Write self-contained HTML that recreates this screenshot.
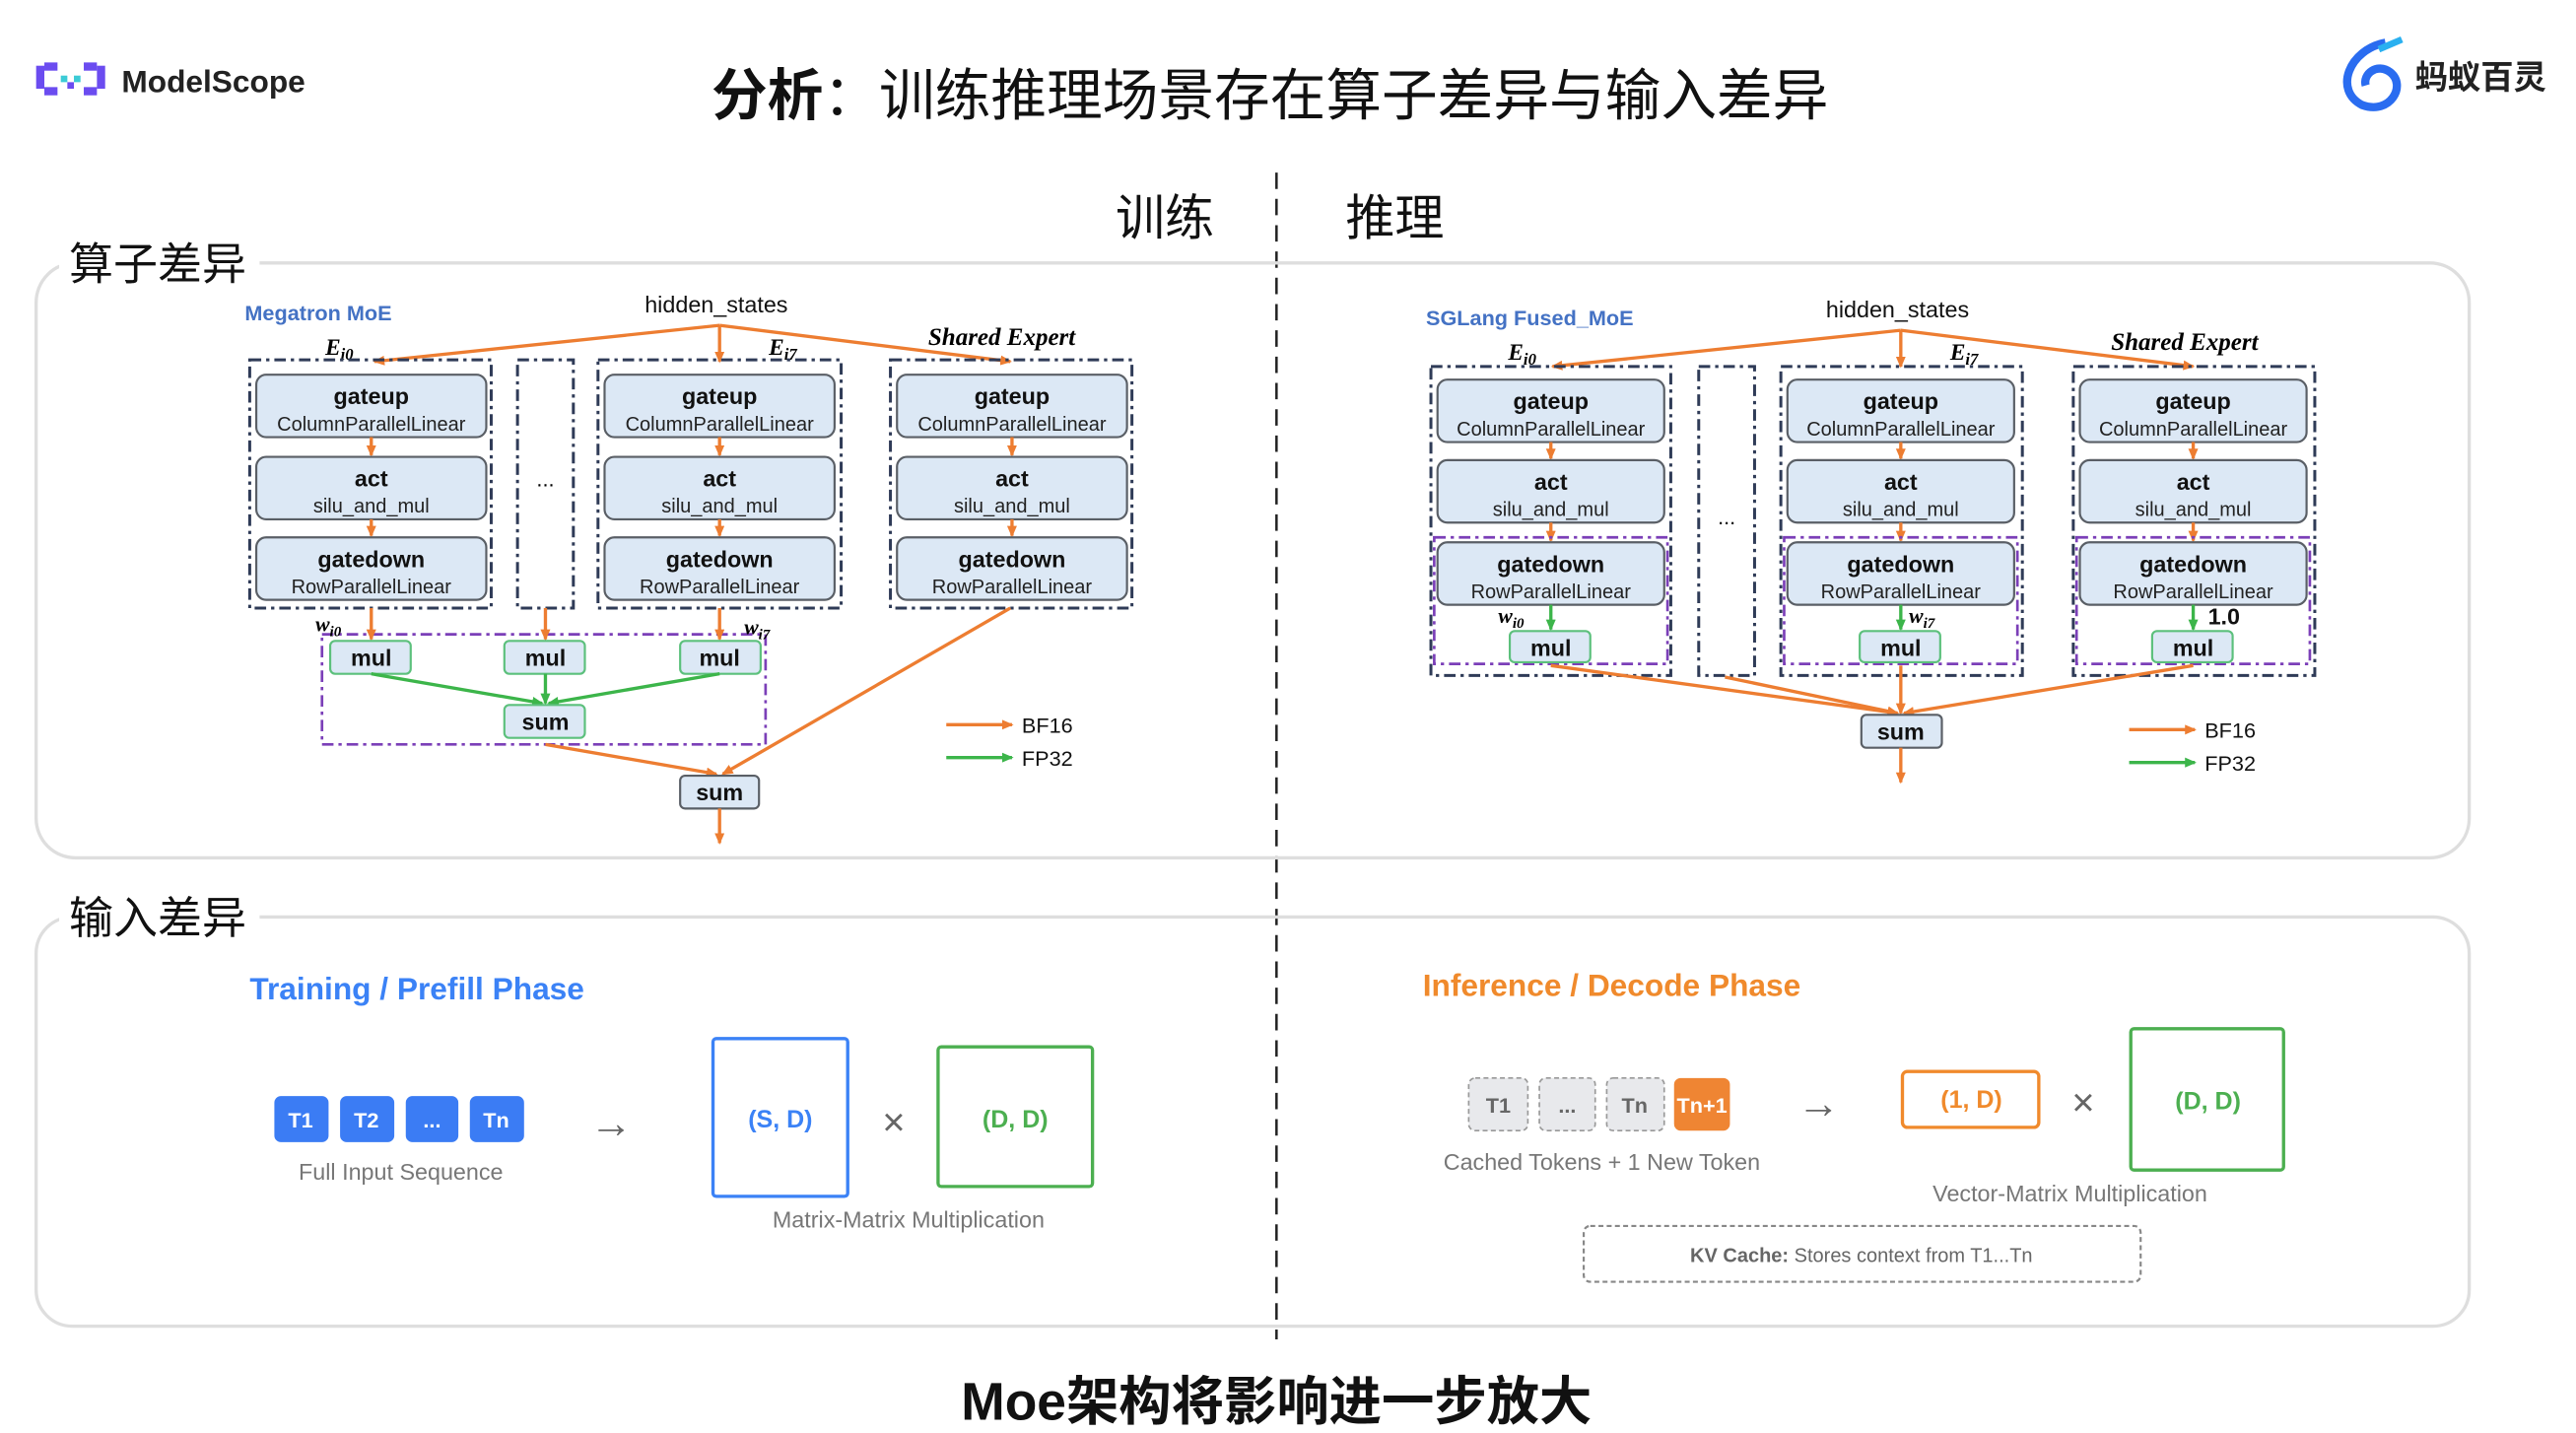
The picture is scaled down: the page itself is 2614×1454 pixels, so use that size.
<!DOCTYPE html>
<html><head><meta charset="utf-8"><style>
html,body{margin:0;padding:0;background:#fff;}
svg{display:block;}
text{font-family:"Liberation Sans","Noto Sans CJK SC",sans-serif;}
.cj{font-family:"Liberation Sans","Noto Sans CJK SC",sans-serif;}
.ser{font-family:"Liberation Serif","DejaVu Serif",serif;font-style:italic;font-weight:bold;}
.nb{fill:#dce8f5;stroke:#5a5f66;stroke-width:1.3;}
.ng{fill:#dce8f5;stroke:#5cc07c;stroke-width:1.3;}
.t1{font-size:14px;font-weight:bold;fill:#111;text-anchor:middle;}
.t2{font-size:12px;fill:#222;text-anchor:middle;}
.ex{fill:none;stroke:#2f3b57;stroke-width:1.8;stroke-dasharray:7,3,2,3;}
.pu{fill:none;stroke:#7b3fb8;stroke-width:1.6;stroke-dasharray:7,3,2,3;}
.or{stroke:#ed7d31;stroke-width:2;fill:none;}
.gr{stroke:#3cb54a;stroke-width:2;fill:none;}
</style></head><body>
<svg width="2614" height="1454" viewBox="0 0 1568 872" preserveAspectRatio="none" xmlns="http://www.w3.org/2000/svg">
<defs>
<marker id="ao" markerWidth="8" markerHeight="8" refX="6" refY="3" orient="auto" markerUnits="userSpaceOnUse"><path d="M0,0 L7,3 L0,6 z" fill="#ed7d31"/></marker>
<marker id="ag" markerWidth="8" markerHeight="8" refX="6" refY="3" orient="auto" markerUnits="userSpaceOnUse"><path d="M0,0 L7,3 L0,6 z" fill="#3cb54a"/></marker>
</defs>

<!-- header -->
<g fill="#6b4cf0">
<rect x="22" y="40" width="5" height="14"/><rect x="27" y="38" width="8" height="5"/><rect x="27" y="53" width="8" height="5"/>
<rect x="59" y="40" width="5" height="14"/><rect x="51" y="38" width="8" height="5"/><rect x="51" y="53" width="8" height="5"/>
<rect x="37" y="46" width="4" height="4" fill="#3ccbd6"/><rect x="45" y="46" width="4" height="4" fill="#3ccbd6"/><rect x="41" y="50" width="4" height="4" fill="#6b4cf0"/>
</g>
<text x="74" y="56" font-size="19" font-weight="bold" fill="#222" font-family="Liberation Mono, monospace">ModelScope</text>
<text x="773" y="70" font-size="34" text-anchor="middle" fill="#111" class="cj"><tspan font-weight="bold">分析</tspan>：训练推理场景存在算子差异与输入差异</text>
<path d="M1452,26 C1430,30 1420,55 1438,64 C1455,70 1465,52 1455,44 C1447,38 1438,45 1440,52" fill="none" stroke="#2a6cf0" stroke-width="5"/>
<path d="M1448,30 L1462,24" stroke="#2ab0f0" stroke-width="4"/>
<text x="1470" y="54" font-size="20" font-weight="bold" fill="#222" class="cj">蚂蚁百灵</text>

<!-- divider -->
<line x1="777" y1="105" x2="777" y2="815" stroke="#222" stroke-width="1.5" stroke-dasharray="10,6"/>
<text x="709" y="143" font-size="30" text-anchor="middle" fill="#111" class="cj">训练</text>
<text x="849" y="143" font-size="30" text-anchor="middle" fill="#111" class="cj">推理</text>

<!-- panels -->
<rect x="22" y="160" width="1481" height="362" rx="24" fill="none" stroke="#dedede" stroke-width="2"/>
<rect x="36" y="142" width="122" height="36" fill="#fff"/>
<text x="42" y="170" font-size="27" fill="#111" class="cj">算子差异</text>
<rect x="22" y="558" width="1481" height="249" rx="22" fill="none" stroke="#dedede" stroke-width="2"/>
<rect x="36" y="540" width="122" height="36" fill="#fff"/>
<text x="42" y="568" font-size="27" fill="#111" class="cj">输入差异</text>

<!-- LEFT diagram -->
<text x="149" y="195" font-size="13" font-weight="bold" fill="#4472c4">Megatron MoE</text>
<text x="436" y="190" font-size="14" text-anchor="middle" fill="#111">hidden_states</text>
<path class="or" d="M438,198 L228,220" marker-end="url(#ao)"/>
<path class="or" d="M438,198 L438,220" marker-end="url(#ao)"/>
<path class="or" d="M438,198 L615,220" marker-end="url(#ao)"/>
<text x="198" y="216" font-size="14" class="ser">E<tspan font-size="10" dy="3">i0</tspan></text>
<text x="468" y="216" font-size="14" class="ser">E<tspan font-size="10" dy="3">i7</tspan></text>
<text x="565" y="210" font-size="15" class="ser">Shared Expert</text>

<rect class="ex" x="152" y="219" width="147" height="151"/>
<rect class="ex" x="315" y="219" width="34" height="151"/>
<rect class="ex" x="364" y="219" width="148" height="151"/>
<rect class="ex" x="542" y="219" width="147" height="151"/>
<text x="332" y="296" font-size="13" text-anchor="middle">...</text>

<g id="colL">
<rect class="nb" x="156" y="228" width="140" height="38" rx="6"/>
<text class="t1" x="226" y="246">gateup</text><text class="t2" x="226" y="262">ColumnParallelLinear</text>
<path class="or" d="M226,266 L226,277" marker-end="url(#ao)"/>
<rect class="nb" x="156" y="278" width="140" height="38" rx="6"/>
<text class="t1" x="226" y="296">act</text><text class="t2" x="226" y="312">silu_and_mul</text>
<path class="or" d="M226,316 L226,326" marker-end="url(#ao)"/>
<rect class="nb" x="156" y="327" width="140" height="38" rx="6"/>
<text class="t1" x="226" y="345">gatedown</text><text class="t2" x="226" y="361">RowParallelLinear</text>
</g>
<use href="#colL" x="212"/>
<use href="#colL" x="390"/>

<rect class="pu" x="196" y="386" width="270" height="67"/>
<path class="or" d="M226,370 L226,389" marker-end="url(#ao)"/>
<path class="or" d="M332,370 L332,389" marker-end="url(#ao)"/>
<path class="or" d="M438,370 L438,389" marker-end="url(#ao)"/>
<text x="192" y="384" font-size="13" class="ser">w<tspan font-size="9" dy="3">i0</tspan></text>
<text x="453" y="386" font-size="13" class="ser">w<tspan font-size="9" dy="3">i7</tspan></text>
<rect class="ng" x="201" y="390" width="49" height="20" rx="3"/><text class="t1" x="226" y="405">mul</text>
<rect class="ng" x="307" y="390" width="49" height="20" rx="3"/><text class="t1" x="332" y="405">mul</text>
<rect class="ng" x="414" y="390" width="49" height="20" rx="3"/><text class="t1" x="438" y="405">mul</text>
<path class="gr" d="M226,410 L330,428" marker-end="url(#ag)"/>
<path class="gr" d="M332,410 L332,428" marker-end="url(#ag)"/>
<path class="gr" d="M438,410 L334,428" marker-end="url(#ag)"/>
<rect class="ng" x="307" y="429" width="49" height="20" rx="3"/><text class="t1" x="332" y="444">sum</text>
<path class="or" d="M332,453 L436,471" marker-end="url(#ao)"/>
<path class="or" d="M615,370 L440,471" marker-end="url(#ao)"/>
<rect class="nb" x="414" y="472" width="48" height="20" rx="3"/><text class="t1" x="438" y="487">sum</text>
<path class="or" d="M438,492 L438,513" marker-end="url(#ao)"/>
<path class="or" d="M576,441 L616,441" marker-end="url(#ao)"/><text x="622" y="446" font-size="13" fill="#111">BF16</text>
<path class="gr" d="M576,461 L616,461" marker-end="url(#ag)"/><text x="622" y="466" font-size="13" fill="#111">FP32</text>

<!-- RIGHT diagram -->
<text x="868" y="198" font-size="13" font-weight="bold" fill="#4472c4">SGLang Fused_MoE</text>
<text x="1155" y="193" font-size="14" text-anchor="middle" fill="#111">hidden_states</text>
<path class="or" d="M1157,201 L945,223" marker-end="url(#ao)"/>
<path class="or" d="M1157,201 L1157,223" marker-end="url(#ao)"/>
<path class="or" d="M1157,201 L1335,223" marker-end="url(#ao)"/>
<text x="918" y="219" font-size="14" class="ser">E<tspan font-size="10" dy="3">i0</tspan></text>
<text x="1187" y="219" font-size="14" class="ser">E<tspan font-size="10" dy="3">i7</tspan></text>
<text x="1285" y="213" font-size="15" class="ser">Shared Expert</text>

<rect class="ex" x="871" y="223" width="146" height="188"/>
<rect class="ex" x="1034" y="223" width="34" height="188"/>
<rect class="ex" x="1084" y="223" width="147" height="188"/>
<rect class="ex" x="1262" y="223" width="147" height="188"/>
<text x="1051" y="319" font-size="13" text-anchor="middle">...</text>

<g id="colR">
<rect class="nb" x="875" y="231" width="138" height="38" rx="6"/>
<text class="t1" x="944" y="249">gateup</text><text class="t2" x="944" y="265">ColumnParallelLinear</text>
<path class="or" d="M944,269 L944,279" marker-end="url(#ao)"/>
<rect class="nb" x="875" y="280" width="138" height="38" rx="6"/>
<text class="t1" x="944" y="298">act</text><text class="t2" x="944" y="314">silu_and_mul</text>
<path class="or" d="M944,318 L944,329" marker-end="url(#ao)"/>
<rect class="pu" x="873" y="327" width="142" height="77"/>
<rect class="nb" x="875" y="330" width="138" height="38" rx="6"/>
<text class="t1" x="944" y="348">gatedown</text><text class="t2" x="944" y="364">RowParallelLinear</text>
<path class="gr" d="M944,368 L944,383" marker-end="url(#ag)"/>
<rect class="ng" x="919" y="384" width="49" height="19" rx="3"/><text class="t1" x="944" y="399">mul</text>
</g>
<use href="#colR" x="213"/>
<use href="#colR" x="391"/>
<text x="912" y="379" font-size="13" class="ser">w<tspan font-size="9" dy="3">i0</tspan></text>
<text x="1162" y="379" font-size="13" class="ser">w<tspan font-size="9" dy="3">i7</tspan></text>
<text x="1344" y="380" font-size="14" font-weight="bold" fill="#111" font-family="Liberation Serif, serif">1.0</text>

<path class="or" d="M944,405 L1155,434" marker-end="url(#ao)"/>
<path class="or" d="M1050,412 L1155,434" marker-end="url(#ao)"/>
<path class="or" d="M1157,405 L1157,434" marker-end="url(#ao)"/>
<path class="or" d="M1335,405 L1159,434" marker-end="url(#ao)"/>
<rect class="nb" x="1133" y="435" width="49" height="20" rx="3"/><text class="t1" x="1157" y="450">sum</text>
<path class="or" d="M1157,455 L1157,476" marker-end="url(#ao)"/>
<path class="or" d="M1296,444 L1336,444" marker-end="url(#ao)"/><text x="1342" y="449" font-size="13" fill="#111">BF16</text>
<path class="gr" d="M1296,464 L1336,464" marker-end="url(#ag)"/><text x="1342" y="469" font-size="13" fill="#111">FP32</text>

<!-- bottom left -->
<text x="152" y="608" font-size="19" font-weight="bold" fill="#3b82f6">Training / Prefill Phase</text>
<g font-size="13" font-weight="bold" fill="#fff" text-anchor="middle">
<rect x="167" y="667" width="33" height="28" rx="4" fill="#3b7cf4"/><text x="183" y="686">T1</text>
<rect x="207" y="667" width="33" height="28" rx="4" fill="#3b7cf4"/><text x="223" y="686">T2</text>
<rect x="247" y="667" width="32" height="28" rx="4" fill="#3b7cf4"/><text x="263" y="686">...</text>
<rect x="286" y="667" width="33" height="28" rx="4" fill="#3b7cf4"/><text x="302" y="686">Tn</text>
</g>
<text x="244" y="718" font-size="14" fill="#777" text-anchor="middle">Full Input Sequence</text>
<text x="372" y="692" font-size="26" fill="#666" text-anchor="middle">→</text>
<rect x="434" y="632" width="82" height="96" rx="2" fill="none" stroke="#3b82f6" stroke-width="2"/>
<text x="475" y="686" font-size="15" font-weight="bold" fill="#3b82f6" text-anchor="middle">(S, D)</text>
<text x="544" y="691" font-size="24" fill="#666" text-anchor="middle">×</text>
<rect x="571" y="637" width="94" height="85" rx="2" fill="none" stroke="#4caf50" stroke-width="2"/>
<text x="618" y="686" font-size="15" font-weight="bold" fill="#4caf50" text-anchor="middle">(D, D)</text>
<text x="553" y="747" font-size="14" fill="#777" text-anchor="middle">Matrix-Matrix Multiplication</text>

<!-- bottom right -->
<text x="866" y="606" font-size="19" font-weight="bold" fill="#f08a2c">Inference / Decode Phase</text>
<g font-size="13" font-weight="bold" text-anchor="middle">
<rect x="894" y="656" width="36" height="32" rx="4" fill="#e8e9ec" stroke="#999" stroke-dasharray="3,2"/><text x="912" y="677" fill="#666">T1</text>
<rect x="937" y="656" width="34" height="32" rx="4" fill="#e8e9ec" stroke="#999" stroke-dasharray="3,2"/><text x="954" y="677" fill="#666">...</text>
<rect x="978" y="656" width="35" height="32" rx="4" fill="#e8e9ec" stroke="#999" stroke-dasharray="3,2"/><text x="995" y="677" fill="#666">Tn</text>
<rect x="1019" y="656" width="34" height="32" rx="4" fill="#ef8533"/><text x="1036" y="677" fill="#fff">Tn+1</text>
</g>
<text x="975" y="712" font-size="14" fill="#777" text-anchor="middle">Cached Tokens + 1 New Token</text>
<text x="1107" y="680" font-size="26" fill="#666" text-anchor="middle">→</text>
<rect x="1158" y="652" width="83" height="34" rx="3" fill="none" stroke="#f08a2c" stroke-width="2"/>
<text x="1200" y="674" font-size="15" font-weight="bold" fill="#f08a2c" text-anchor="middle">(1, D)</text>
<text x="1268" y="679" font-size="24" fill="#666" text-anchor="middle">×</text>
<rect x="1297" y="626" width="93" height="86" rx="2" fill="none" stroke="#4caf50" stroke-width="2"/>
<text x="1344" y="675" font-size="15" font-weight="bold" fill="#4caf50" text-anchor="middle">(D, D)</text>
<text x="1260" y="731" font-size="14" fill="#777" text-anchor="middle">Vector-Matrix Multiplication</text>
<rect x="964" y="746" width="339" height="34" rx="4" fill="none" stroke="#888" stroke-width="1.3" stroke-dasharray="3,2"/>
<text x="1133" y="768" font-size="12" fill="#666" text-anchor="middle"><tspan font-weight="bold">KV Cache:</tspan> Stores context from T1...Tn</text>

<!-- footer -->
<text x="777" y="864" font-size="32" font-weight="bold" fill="#111" text-anchor="middle" class="cj">Moe架构将影响进一步放大</text>
</svg>
</body></html>
